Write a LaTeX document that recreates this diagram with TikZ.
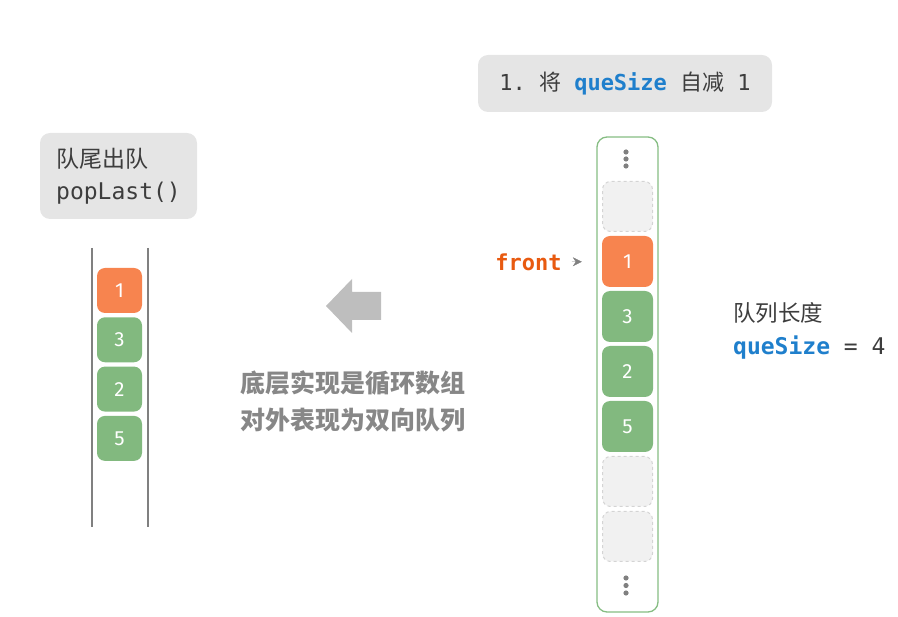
\documentclass[tikz,border=0pt]{standalone}
\usepackage{fontspec}
\setmainfont{Fira Sans}
\newfontfamily\cjk{Noto Sans CJK SC}
\newfontfamily\mono{DejaVu Sans Mono}
\usetikzlibrary{positioning,arrows.meta}
\definecolor{cellorange}{HTML}{F7844F}
\definecolor{cellgreen}{HTML}{82B97F}
\definecolor{framegreen}{HTML}{86BD83}
\definecolor{emptyfill}{HTML}{F1F1F1}
\definecolor{emptyline}{HTML}{D4D4D4}
\definecolor{boxgray}{HTML}{E5E5E5}
\definecolor{textdark}{HTML}{3D3D3D}
\definecolor{textgray}{HTML}{878787}
\definecolor{arrowgray}{HTML}{BEBEBE}
\definecolor{qsblue}{HTML}{1F7FCC}
\definecolor{frontred}{HTML}{E85A10}
\tikzstyle{cell} = [rounded corners=8pt, inner sep=0pt, text=white, font=\fontsize{20.5}{20.5}\selectfont]
\tikzstyle{ptr} = [-{Stealth[length=9pt,width=9pt]}, draw=gray]

\begin{document}
\begin{tikzpicture}[x=1pt, y=-1pt]
\tikzstyle{every node}=[text=textdark]
	\useasboundingbox (0,0) rectangle (898,617);

	\node (dec) [fill=boxgray, rounded corners=10pt, minimum width=294, minimum height=57, font=\fontsize{22}{22}\selectfont] at (625,83.5) {{\mono 1.\ }{\cjk 将}{\mono\ \textbf{\color{qsblue}queSize}\ }{\cjk 自减}{\mono\ 1}};
	\node (pop) [fill=boxgray, rounded corners=10pt, minimum width=157, minimum height=86, align=left, font=\fontsize{23}{32}\selectfont] at (118.5,176) {{\cjk 队尾出队}\\{\mono popLast()}};

	\draw[gray, line width=1.3pt] (92,248) -- (92,527);
	\draw[gray, line width=1.3pt] (148,248) -- (148,527);
	\node (l1) [cell, fill=cellorange, minimum size=45] at (119.5,290.5) {1};
	\node (l3) [cell, fill=cellgreen, minimum size=45] at (119.5,339.8) {3};
	\node (l2) [cell, fill=cellgreen, minimum size=45] at (119.5,389.1) {2};
	\node (l5) [cell, fill=cellgreen, minimum size=45] at (119.5,438.4) {5};

	\fill[arrowgray] (326,306) -- (352,279) -- (352,292) -- (381,292) -- (381,320) -- (352,320) -- (352,333) -- cycle;
	\node (note) [text=textgray, align=center, font=\fontsize{25}{37}\selectfont\cjk\bfseries] at (353,401.5) {底层实现是循环数组\\对外表现为双向队列};

	\node (arr) [draw=framegreen, line width=1.3pt, rounded corners=10pt, minimum width=61, minimum height=475] at (627.5,374.5) {};
	\foreach \y in {152,159,166,578,585.5,593}
		\fill[gray] (626,\y) circle (2.6);
	\node (e0) [cell, fill=emptyfill, draw=emptyline, dashed, line width=1pt, minimum size=50] at (627.5,206.5) {};
	\node (f1) [cell, fill=cellorange, minimum size=51] at (627.5,261.5) {1};
	\node (f3) [cell, fill=cellgreen, minimum size=51] at (627.5,316.5) {3};
	\node (f2) [cell, fill=cellgreen, minimum size=51] at (627.5,371.5) {2};
	\node (f5) [cell, fill=cellgreen, minimum size=51] at (627.5,426.5) {5};
	\node (e5) [cell, fill=emptyfill, draw=emptyline, dashed, line width=1pt, minimum size=50] at (627.5,481.5) {};
	\node (e6) [cell, fill=emptyfill, draw=emptyline, dashed, line width=1pt, minimum size=50] at (627.5,536.5) {};

	\node (front) [inner sep=0pt, text=frontred, font=\fontsize{22}{22}\selectfont\mono\bfseries] at (528.5,262) {front};
	\draw[ptr, shorten <=10pt, shorten >=20pt] (front) -- (f1);

	\node (len) [anchor=west, inner sep=0pt, font=\fontsize{22.5}{22.5}\selectfont\cjk] at (733,313) {队列长度};
	\node (size) [anchor=west, inner sep=0pt, font=\fontsize{23}{23}\selectfont\mono] at (733,348) {\textbf{\color{qsblue}queSize}\ =\ 4};
\end{tikzpicture}
\end{document}
